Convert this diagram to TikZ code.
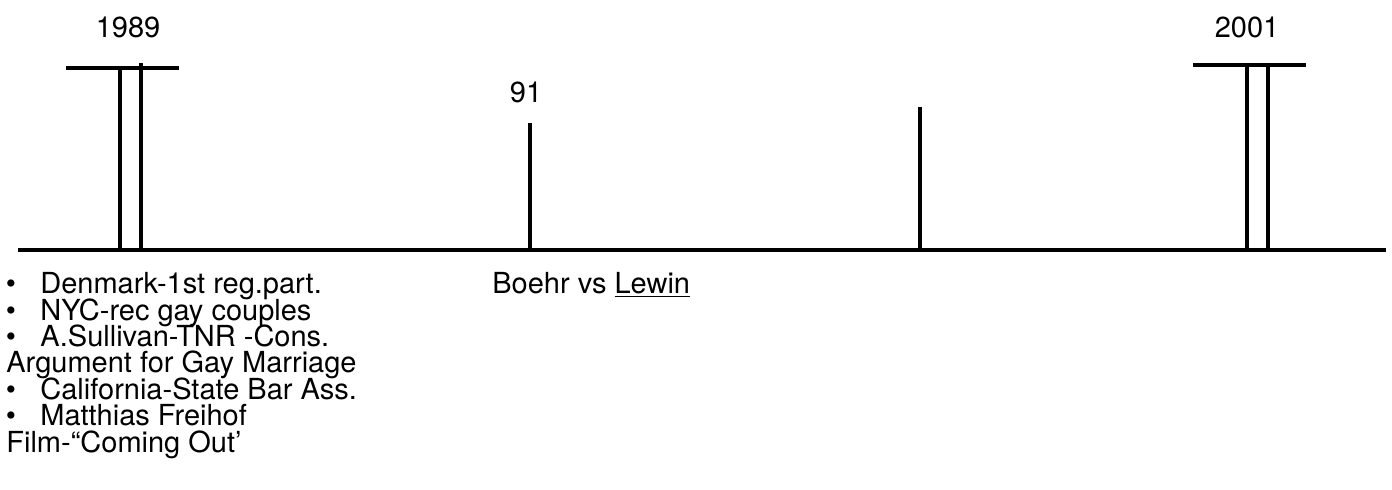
\documentclass[tikz,border=0pt]{standalone}
\usepackage{fontspec}
\setmainfont{TeX Gyre Heros}
\begin{document}
\begin{tikzpicture}[x=0.5pt,y=-0.5pt,
  axis/.style={line width=2.4pt},
  tick/.style={line width=2pt},
  lbl/.style={inner sep=0pt,font=\fontsize{14.5}{17}\selectfont},
  item/.style={lbl,anchor=base west}]
\useasboundingbox (0,0) rectangle (1392,489);

% timeline axis
\coordinate (ax0) at (18,250);
\coordinate (ax1) at (1386,250);
\draw[axis] (ax0) -- (ax1);

% 1989 marker
\coordinate (b89l) at (66,68);
\coordinate (b89r) at (179,68);
\draw[tick] (b89l) -- (b89r);
\draw[tick] (120,68) -- (120,250);
\draw[tick] (141,63) -- (141,250);
\node[lbl,anchor=base] (y89) at (128,37) {1989};

% 1991 marker
\draw[tick] (530,123) -- (530,250);
\node[lbl,anchor=base] (y91) at (526,102) {91};

% unlabelled marker
\draw[tick] (920,107) -- (920,250);

% 2001 marker
\coordinate (b01l) at (1193,65);
\coordinate (b01r) at (1306,65);
\draw[tick] (b01l) -- (b01r);
\draw[tick] (1247,65) -- (1247,250);
\draw[tick] (1268,65) -- (1268,250);
\node[lbl,anchor=base] (y01) at (1247,37) {2001};

% events of 1989
\node[item] (e1) at (40,293) {Denmark-1st reg.part.};
\node[item] (e2) at (40,320) {NYC-rec gay couples};
\node[item] (e3) at (40,346) {A.Sullivan-TNR -Cons.};
\node[item] (e3b) at (6,372) {Argument for Gay Marriage};
\node[item] (e4) at (40,399) {California-State Bar Ass.};
\node[item] (e5) at (40,425) {Matthias Freihof};
\node[item] (e5b) at (6,452) {Film-“Coming Out’};
\foreach \n in {e1,e2,e3,e4,e5}
  \node[lbl,anchor=base] at (\n.base west -| 11,0) {\textbullet};

% event of 1991
\node[item] (e6) at (492,293) {Boehr vs \underline{Lewin}};
\end{tikzpicture}
\end{document}
